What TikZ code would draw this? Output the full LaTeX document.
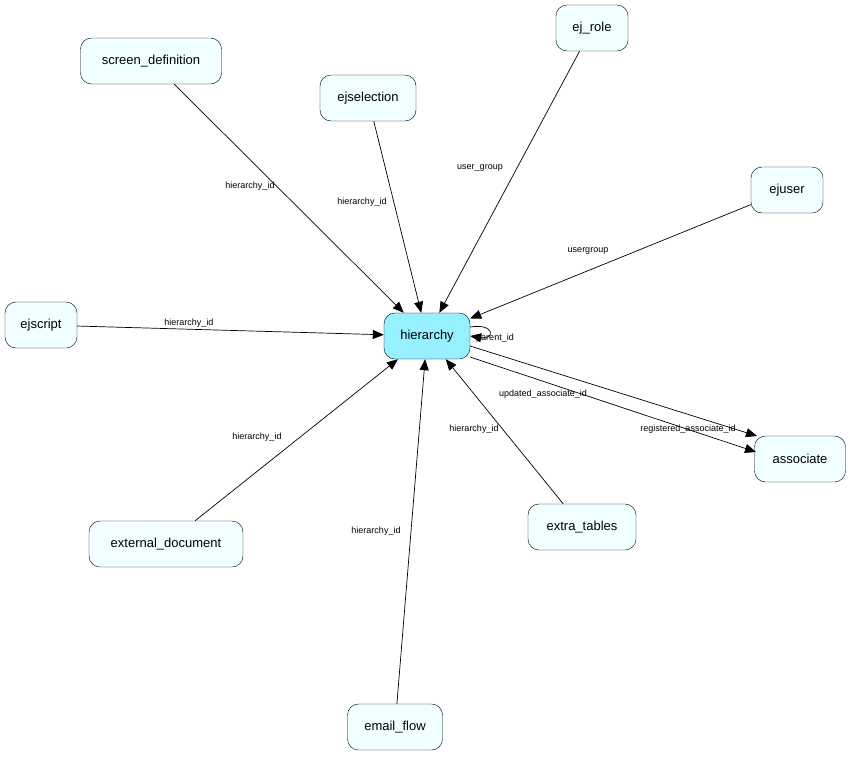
\documentclass[tikz,border=0pt]{standalone}
\usepackage{fontspec}
\setmainfont{Liberation Sans}
\usetikzlibrary{arrows.meta}
\tikzset{
  tbl/.style={draw, rounded corners=11pt, fill={rgb,255:red,240;green,255;blue,255}, minimum height=46pt, inner xsep=10pt, font=\fontsize{13}{15}\selectfont},
  mainbl/.style={tbl, fill={rgb,255:red,150;green,240;blue,255}},
  lbl/.style={inner sep=0.5pt, font=\fontsize{9}{10}\selectfont},
  fk/.style={-{Triangle[length=11pt,width=9pt]}, line width=0.7pt}
}
\begin{document}
\begin{tikzpicture}[x=1pt,y=-1pt]
\useasboundingbox (0,0) rectangle (851,758);

% tables
\node [mainbl, minimum width=86pt] (hier) at (427,336) {hierarchy};
\node [tbl, minimum width=141pt] (scrdef) at (151,61) {screen\_definition};
\node [tbl, minimum width=96pt] (ejsel) at (368,98) {ejselection};
\node [tbl, minimum width=72pt] (ejrole) at (592,28) {ej\_role};
\node [tbl, minimum width=72pt] (ejuser) at (787,190) {ejuser};
\node [tbl, minimum width=72pt] (ejscr) at (41,325) {ejscript};
\node [tbl, minimum width=91pt] (assoc) at (800,459) {associate};
\node [tbl, minimum width=154pt] (extdoc) at (166,544) {external\_document};
\node [tbl, minimum width=108pt] (extra) at (582,527) {extra\_tables};
\node [tbl, minimum width=95pt] (email) at (395,727) {email\_flow};

% foreign keys
\draw [fk] (scrdef) -- (hier);
\draw [fk] (ejsel) -- (hier);
\draw [fk] (ejrole) -- (hier);
\draw [fk] (ejuser) -- (hier);
\draw [fk] (ejscr) -- (hier);
\draw [fk] (extdoc) -- (hier);
\draw [fk] (email) -- (hier);
\draw [fk] (extra) -- (hier);
\draw [fk] (hier.east) ++(0,-9) .. controls +(25,-4) and +(25,4) .. (hier.east);
\coordinate (r1) at (470,346);
\coordinate (r2) at (470,357);
\coordinate (a1) at (757,436);
\coordinate (a2) at (756,452);
\draw [fk] (r1) -- (a1);
\draw [fk] (r2) -- (a2);

% labels
\node [lbl] (l1) at (250,186) {hierarchy\_id};
\node [lbl] (l2) at (362,202) {hierarchy\_id};
\node [lbl] (l3) at (480,168) {user\_group};
\node [lbl] (l4) at (588,251) {usergroup};
\node [lbl] (l5) at (189,323) {hierarchy\_id};
\node [lbl] (l6) at (495,338) {parent\_id};
\node [lbl] (l7) at (543,394) {updated\_associate\_id};
\node [lbl] (l8) at (688,429) {registered\_associate\_id};
\node [lbl] (l9) at (474,429) {hierarchy\_id};
\node [lbl] (l10) at (257,437) {hierarchy\_id};
\node [lbl] (l11) at (376,531) {hierarchy\_id};
\end{tikzpicture}
\end{document}
